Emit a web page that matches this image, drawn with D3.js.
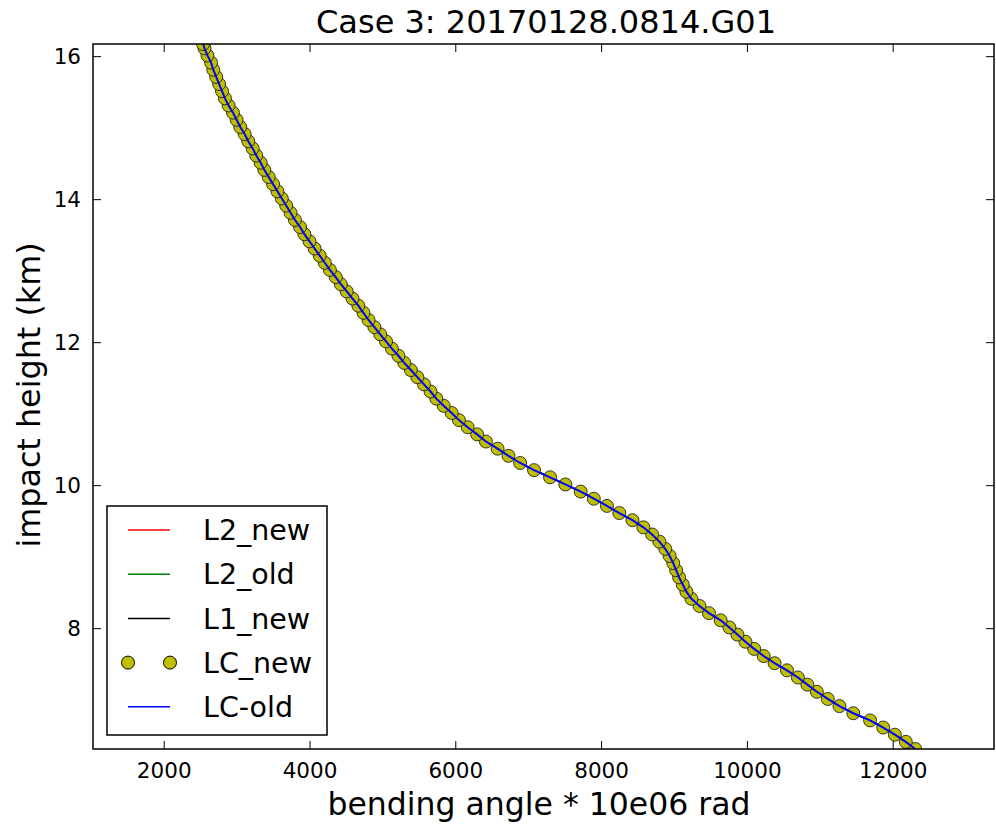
<!DOCTYPE html>
<html><head><meta charset="utf-8">
<script src="https://cdn.jsdelivr.net/npm/d3@7"></script>
<style>body{margin:0;background:#fff} text{font-family:"DejaVu Sans","Bitstream Vera Sans",sans-serif;fill:#000}</style>
</head><body><svg id="c" width="996" height="827"></svg>
<script>
// impact height (km)
const impactHeight = [6.31,6.41,6.51,6.61,6.71,6.81,6.91,7.01,7.11,7.21,7.31,7.41,7.51,7.61,7.71,7.81,7.91,8.01,8.11,8.21,8.31,8.41,8.51,8.61,8.71,8.81,8.91,9.01,9.11,9.21,9.31,9.41,9.51,9.61,9.71,9.81,9.91,10.01,10.11,10.21,10.31,10.41,10.51,10.61,10.71,10.81,10.91,11.01,11.11,11.21,11.31,11.41,11.51,11.61,11.71,11.81,11.91,12.01,12.11,12.21,12.31,12.41,12.51,12.61,12.71,12.81,12.91,13.01,13.11,13.21,13.31,13.41,13.51,13.61,13.71,13.81,13.91,14.01,14.11,14.21,14.31,14.41,14.51,14.61,14.71,14.81,14.91,15.01,15.11,15.21,15.31,15.41,15.51,15.61,15.71,15.81,15.91,16.01,16.11,16.17];
// bending angle * 10e06 rad (all five retrievals coincide)
const bendingAngle = [12310,12180,12030,11870,11690,11460,11270,11110,10960,10830,10700,10550,10380,10230,10100,9980,9870,9760,9640,9480,9350,9240,9170,9120,9070,9030,8990,8940,8880,8800,8700,8580,8430,8250,8080,7900,7720,7510,7300,7080,6890,6730,6580,6420,6300,6170,6050,5950,5840,5740,5660,5570,5480,5390,5300,5220,5130,5050,4970,4890,4810,4740,4670,4590,4510,4430,4360,4280,4210,4140,4070,4000,3930,3870,3800,3740,3680,3620,3560,3500,3440,3380,3330,3270,3220,3160,3110,3050,3000,2950,2890,2840,2800,2760,2720,2680,2650,2600,2560,2540];
const seriesNames = ["L2_new","L2_old","L1_new","LC_new","LC-old"];
const seriesColors = ["#ff0000","#008000","#000000","#bfbf00","#0000ff"];
const xTicks = [2000,4000,6000,8000,10000,12000];
const yTicks = [8,10,12,14,16];
const xDomain = [1030,13390];
const yDomain = [6.31,16.17];
const titleText = "Case 3: 20170128.0814.G01";
const xLabelText = "bending angle * 10e06 rad";
const yLabelText = "impact height (km)";

const L=93, R=994, T=44, B=749;
const svg = d3.select("#c");
const x = d3.scaleLinear().domain(xDomain).range([L,R]);
const y = d3.scaleLinear().domain(yDomain).range([B,T]);
const pts = impactHeight.map((h,i)=>({h, a: bendingAngle[i]}));

const defs = svg.append("defs");
defs.append("clipPath").attr("id","clip").append("rect").attr("x",L).attr("y",T).attr("width",R-L).attr("height",B-T);
const plot = svg.append("g").attr("clip-path","url(#clip)");
const line = d3.line().x(d=>x(d.a)).y(d=>y(d.h));
// L2_new, L2_old, L1_new lines underneath
[0,1,2].forEach(k=>{
  plot.append("path").datum(pts).attr("d",line).attr("fill","none").attr("stroke",seriesColors[k]).attr("stroke-width",1.5);
});
// LC_new markers
plot.append("g").selectAll("circle").data(pts).join("circle")
  .attr("cx",d=>x(d.a)).attr("cy",d=>y(d.h)).attr("r",6.5)
  .attr("fill",seriesColors[3]).attr("stroke","#000").attr("stroke-width",1).attr("stroke-opacity",0.75);
// LC-old line
plot.append("path").datum(pts).attr("d",line).attr("fill","none").attr("stroke",seriesColors[4]).attr("stroke-width",2);

// axes (ticks inward on all sides)
const tl = 8;
const gx = svg.append("g").attr("transform",`translate(0,${B})`).call(d3.axisBottom(x).tickValues(xTicks).tickSize(-tl).tickPadding(14).tickFormat(d3.format("d")));
const gxt = svg.append("g").attr("transform",`translate(0,${T})`).call(d3.axisTop(x).tickValues(xTicks).tickSize(-tl).tickFormat(""));
const gy = svg.append("g").attr("transform",`translate(${L},0)`).call(d3.axisLeft(y).tickValues(yTicks).tickSize(-tl).tickPadding(12).tickFormat(d3.format("d")));
const gyr = svg.append("g").attr("transform",`translate(${R},0)`).call(d3.axisRight(y).tickValues(yTicks).tickSize(-tl).tickFormat(""));
[gx,gxt,gy,gyr].forEach(g=>{g.select(".domain").remove(); g.selectAll("line").attr("stroke","#000").attr("stroke-width",1);});
[gx,gy].forEach(g=>g.selectAll("text").attr("font-size",21.5).attr("font-family","DejaVu Sans").attr("fill","#000"));
svg.append("rect").attr("x",L).attr("y",T).attr("width",R-L).attr("height",B-T).attr("fill","none").attr("stroke","#000").attr("stroke-width",1.5);

// title and labels
svg.append("text").attr("x",546).attr("y",33).attr("text-anchor","middle").attr("font-size",32).text(titleText);
svg.append("text").attr("x",539).attr("y",815).attr("text-anchor","middle").attr("font-size",31.5).text(xLabelText);
svg.append("text").attr("transform","translate(40,395) rotate(-90)").attr("text-anchor","middle").attr("font-size",31.8).text(yLabelText);

// legend
const lg = svg.append("g");
lg.append("rect").attr("x",107).attr("y",506).attr("width",220).attr("height",229).attr("fill","#fff").attr("stroke","#000").attr("stroke-width",1.5);
seriesNames.forEach((name,i)=>{
  const cy = 530 + i*44.2;
  if(i===3){
    [128,170].forEach(cx=>lg.append("circle").attr("cx",cx).attr("cy",cy).attr("r",6.5).attr("fill",seriesColors[3]).attr("stroke","#000").attr("stroke-width",1));
  } else {
    lg.append("line").attr("x1",128).attr("x2",170).attr("y1",cy).attr("y2",cy).attr("stroke",seriesColors[i]).attr("stroke-width",1.5);
  }
  lg.append("text").attr("x",203).attr("y",cy).attr("dy","0.36em").attr("font-size",28.5).text(name);
});
</script></body></html>
